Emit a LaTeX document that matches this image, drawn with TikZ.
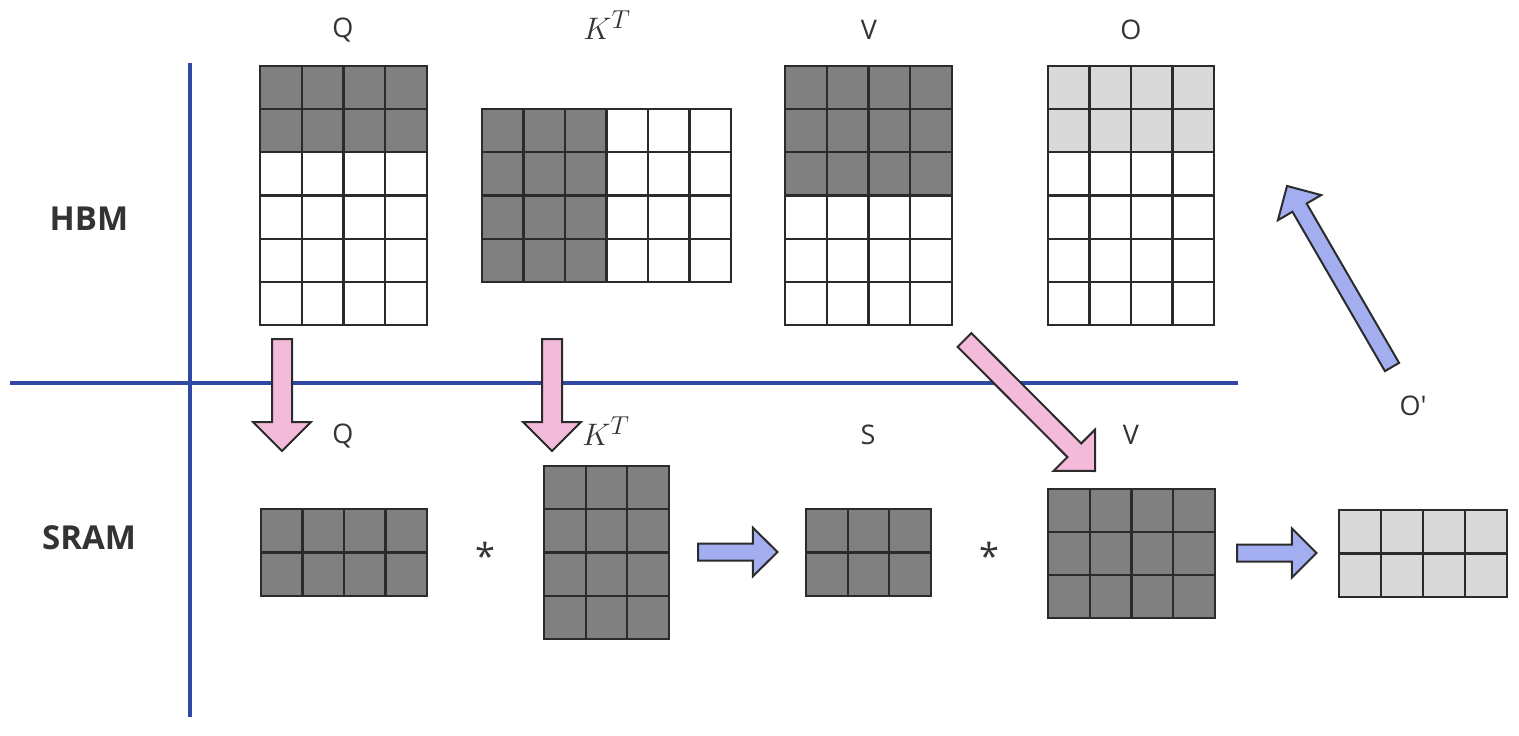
\documentclass[tikz,border=0pt]{standalone}
\usepackage{fontspec}
\setmainfont{Open Sans}[Ligatures=TeXOff]
\usetikzlibrary{calc}
\definecolor{txt}{HTML}{333333}
\definecolor{cellgray}{HTML}{808080}
\definecolor{lightcell}{HTML}{D9D9D9}
\definecolor{pinkarrow}{HTML}{F4BADA}
\definecolor{bluearrow}{HTML}{A3AEF0}
\definecolor{divider}{HTML}{2F48A3}
\definecolor{edge}{HTML}{2B2B2B}
\tikzset{
  cellline/.style={draw=edge,line width=2.2pt},
  darkfill/.style={fill=cellgray},
  lightfill/.style={fill=lightcell},
  divline/.style={draw=divider,line width=3.6pt},
  pinkblock/.style={draw=edge,fill=pinkarrow,line width=2pt,line join=miter},
  blueblock/.style={draw=edge,fill=bluearrow,line width=2pt,line join=miter},
  lbl/.style={text=txt,font=\fontsize{27}{32}\selectfont,inner sep=0pt},
  mathlbl/.style={text=txt,font=\fontsize{24.88}{30}\selectfont,inner sep=0pt,scale=1.25},
  side/.style={text=txt,font=\fontsize{33}{38}\selectfont\bfseries,inner sep=0pt},
  star/.style={text=txt,font=\fontsize{36}{40}\selectfont,inner sep=0pt}
}
% #1 name, #2 x0, #3 y0, #4 x1, #5 y1, #6 cols, #7 rows, #8 fill code
\newcommand\mblock[8]{%
  \node[inner sep=0pt,outer sep=0pt,minimum width={(#4)-(#2)},minimum height={(#5)-(#3)},anchor=north west] (#1) at (#2,#3) {};
  #8
  \pgfmathtruncatemacro\ncm{#6-1}
  \pgfmathtruncatemacro\nrm{#7-1}
  \foreach \i in {1,...,\ncm} \draw[cellline] ({#2+\i*(#4-#2)/#6},#3) -- ({#2+\i*(#4-#2)/#6},#5);
  \foreach \j in {1,...,\nrm} \draw[cellline] (#2,{#3+\j*(#5-#3)/#7}) -- (#4,{#3+\j*(#5-#3)/#7});
  \draw[cellline] (#1.north west) rectangle (#1.south east);
}
% #1 style, #2 start, #3 tip, #4 shaft half width, #5 head half width, #6 head length
\newcommand\blockarrow[6]{%
  \coordinate (hb) at ($(#3)!#6pt!(#2)$);
  \draw[#1] ($(#2)!#4pt!90:(#3)$) -- ($(hb)!#4pt!90:(#3)$) -- ($(hb)!#5pt!90:(#3)$) -- (#3)
    -- ($(hb)!#5pt!-90:(#3)$) -- ($(hb)!#4pt!-90:(#3)$) -- ($(#2)!#4pt!-90:(#3)$) -- cycle;
}
\begin{document}
\begin{tikzpicture}[x=1pt,y=-1pt]
\useasboundingbox (0,0) rectangle (1519,736);
\fill[white] (0,0) rectangle (1519,736);

% dividers
\coordinate (vtop) at (190,63);
\coordinate (vbot) at (190,717);
\coordinate (hl) at (10,383);
\coordinate (hr) at (1238,383);
\draw[divline] (vtop) -- (vbot);
\draw[divline] (hl) -- (hr);

% side labels
\node[side] (hbm) at (89,219) {HBM};
\node[side] (sram) at (89,538) {SRAM};

% top matrices (HBM)
\mblock{qtop}{260}{66}{427}{325}{4}{6}{\fill[darkfill] (260,66) rectangle (427,152.3);}
\mblock{ktop}{482}{109}{731}{282}{6}{4}{\fill[darkfill] (482,109) rectangle (606.5,282);}
\mblock{vtopm}{785}{66}{952}{325}{4}{6}{\fill[darkfill] (785,66) rectangle (952,195.5);}
\mblock{otop}{1048}{66}{1214}{325}{4}{6}{\fill[lightfill] (1048,66) rectangle (1214,152.3);}

\node[lbl] (lq) at (343,30) {Q};
\node[mathlbl] (lk) at (607,25) {$K^T$};
\node[lbl] (lv) at (869,30) {V};
\node[lbl] (lo) at (1131,30) {O};

% bottom matrices (SRAM)
\mblock{qbot}{261}{509}{427}{596}{4}{2}{\fill[darkfill] (261,509) rectangle (427,596);}
\mblock{kbot}{544}{466}{669}{639}{3}{4}{\fill[darkfill] (544,466) rectangle (669,639);}
\mblock{sbot}{806}{509}{931}{596}{3}{2}{\fill[darkfill] (806,509) rectangle (931,596);}
\mblock{vbotm}{1048}{489}{1215}{618}{4}{3}{\fill[darkfill] (1048,489) rectangle (1215,618);}
\mblock{obot}{1339}{510}{1507}{597}{4}{2}{\fill[lightfill] (1339,510) rectangle (1507,597);}

\node[lbl] (bq) at (343,436) {Q};
\node[mathlbl] (bk) at (606,431) {$K^T$};
\node[lbl] (bs) at (868,435) {S};
\node[lbl] (bv) at (1131,435) {V};
\node[lbl] (bo) at (1413,406) {O'};

\node[star] (st1) at (485,556) {*};
\node[star] (st2) at (989,556) {*};

% arrows
\coordinate (p1s) at (282,339); \coordinate (p1t) at (282,451);
\coordinate (p2s) at (552,339); \coordinate (p2t) at (552,451);
\coordinate (p3s) at (964.5,340); \coordinate (p3t) at (1095,471);
\coordinate (b1s) at (698,552); \coordinate (b1t) at (777.5,552);
\coordinate (b2s) at (1237,553); \coordinate (b2t) at (1316.5,553);
\coordinate (b3s) at (1392,367); \coordinate (b3t) at (1287,186);
\blockarrow{pinkblock}{p1s}{p1t}{10}{29}{29}
\blockarrow{pinkblock}{p2s}{p2t}{10}{29}{29}
\blockarrow{pinkblock}{p3s}{p3t}{9.7}{29.3}{29.3}
\blockarrow{blueblock}{b1s}{b1t}{8.5}{24.3}{24.6}
\blockarrow{blueblock}{b2s}{b2t}{8.5}{24.5}{24.6}
\blockarrow{blueblock}{b3s}{b3t}{8.2}{25}{25}
\end{tikzpicture}
\end{document}
